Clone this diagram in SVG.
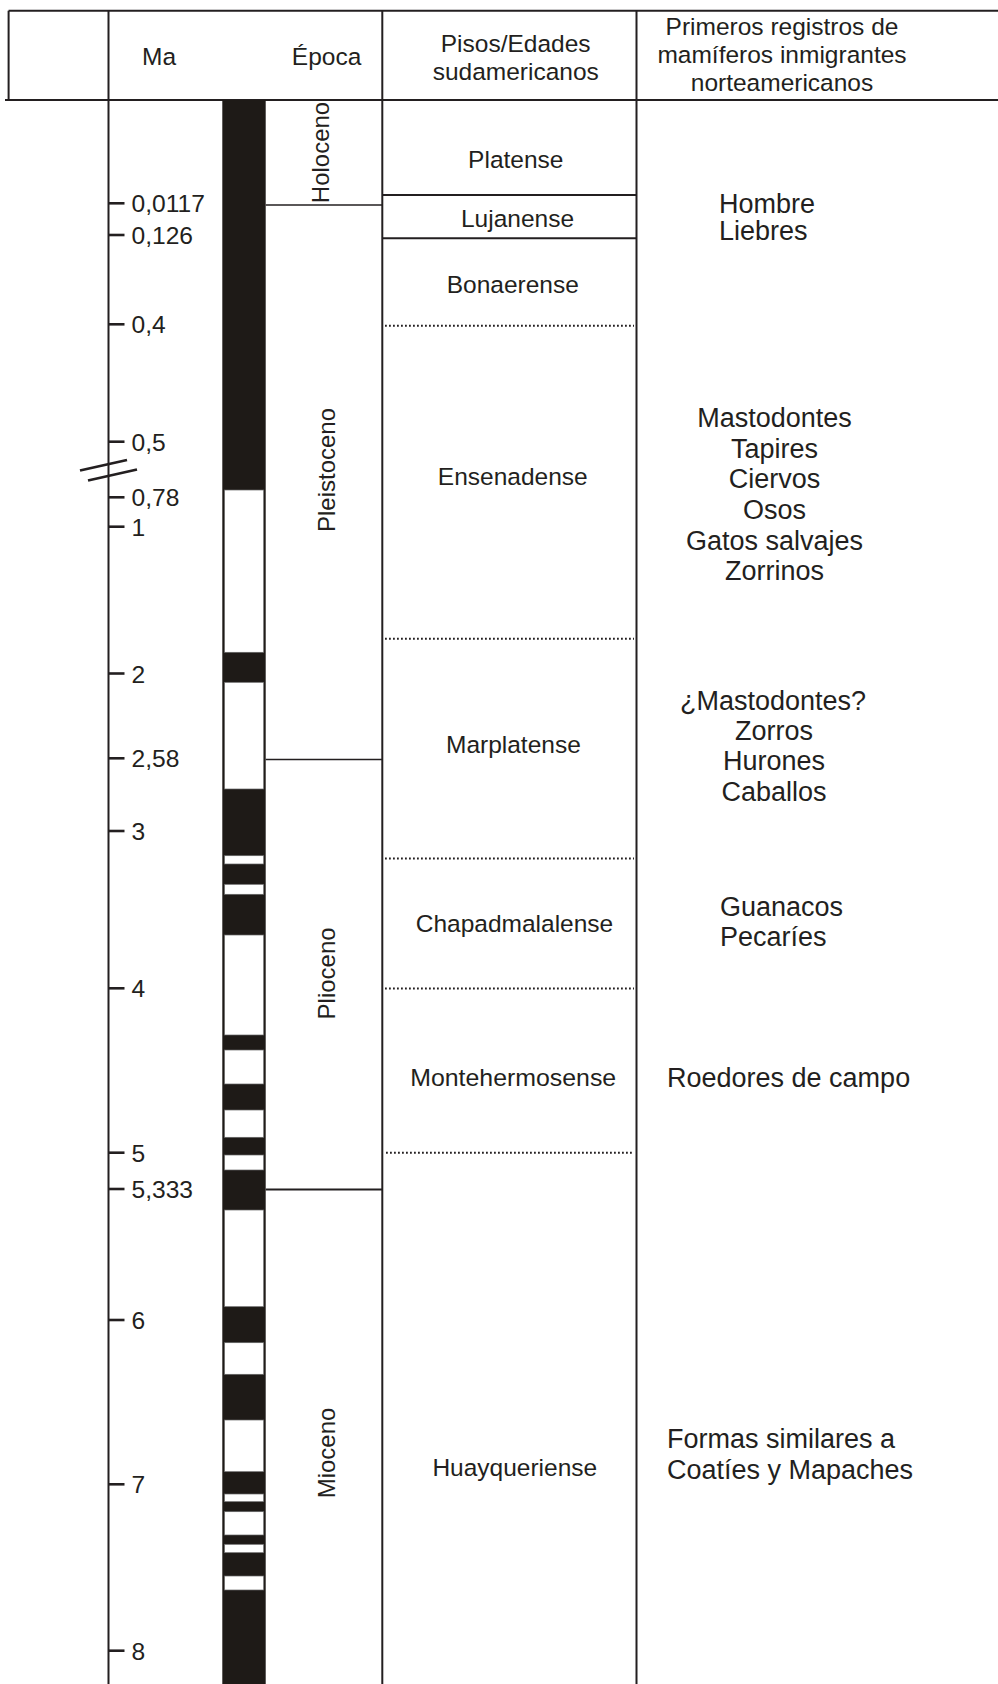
<svg xmlns="http://www.w3.org/2000/svg" width="998" height="1684" viewBox="0 0 998 1684">
<style>
text{font-family:"Liberation Sans",Arial,sans-serif;fill:#231f20}
.h{font-size:24.5px}
.t{font-size:24.6px}
.p{font-size:24.5px;text-anchor:middle}
.m{font-size:27px}
.mc{font-size:27px;text-anchor:middle}
.e{font-size:24px;text-anchor:middle}
.ln{stroke:#231f20;stroke-width:2;fill:none}
.thin{stroke:#231f20;stroke-width:1.4;fill:none}
.dot{stroke:#231f20;stroke-width:2;stroke-dasharray:1.8 2.2;fill:none}
.tick{stroke:#231f20;stroke-width:2.6}
.w{fill:#fff;stroke:#666;stroke-width:0.7}
</style>
<rect width="998" height="1684" fill="#fff"/>
<g id="grid">
<line class="ln" x1="8.6" y1="10.7" x2="998" y2="10.7"/>
<line class="ln" x1="5" y1="100" x2="998" y2="100"/>
<line class="ln" x1="8.6" y1="10.7" x2="8.6" y2="100"/>
<line class="ln" x1="108.5" y1="10.7" x2="108.5" y2="1684"/>
<line class="ln" x1="382.3" y1="10.7" x2="382.3" y2="1684"/>
<line class="ln" x1="636.5" y1="10.7" x2="636.5" y2="1684"/>
</g>
<g id="header">
<text class="h" x="159" y="65" text-anchor="middle">Ma</text>
<text class="h" x="326.6" y="65" text-anchor="middle">Época</text>
<text class="h" x="515.7" y="51.6" text-anchor="middle">Pisos/Edades</text>
<text class="h" x="515.7" y="79.8" text-anchor="middle">sudamericanos</text>
<text class="h" x="782" y="35.2" text-anchor="middle">Primeros registros de</text>
<text class="h" x="782" y="63.4" text-anchor="middle">mamíferos inmigrantes</text>
<text class="h" x="782" y="91.3" text-anchor="middle">norteamericanos</text>
</g>
<g id="scale">
<g class="tick">
<line x1="108" y1="203.3" x2="124.5" y2="203.3"/>
<line x1="108" y1="235" x2="124.5" y2="235"/>
<line x1="108" y1="324.3" x2="124.5" y2="324.3"/>
<line x1="108" y1="441.7" x2="124.5" y2="441.7"/>
<line x1="108" y1="497.3" x2="124.5" y2="497.3"/>
<line x1="108" y1="526.7" x2="124.5" y2="526.7"/>
<line x1="108" y1="673.5" x2="124.5" y2="673.5"/>
<line x1="108" y1="758.3" x2="124.5" y2="758.3"/>
<line x1="108" y1="831" x2="124.5" y2="831"/>
<line x1="108" y1="988.3" x2="124.5" y2="988.3"/>
<line x1="108" y1="1152.7" x2="124.5" y2="1152.7"/>
<line x1="108" y1="1189" x2="124.5" y2="1189"/>
<line x1="108" y1="1320" x2="124.5" y2="1320"/>
<line x1="108" y1="1484.3" x2="124.5" y2="1484.3"/>
<line x1="108" y1="1650.7" x2="124.5" y2="1650.7"/>
</g>
<text class="t" x="131.5" y="212.3">0,0117</text>
<text class="t" x="131.5" y="244">0,126</text>
<text class="t" x="131.5" y="333.3">0,4</text>
<text class="t" x="131.5" y="450.7">0,5</text>
<text class="t" x="131.5" y="506.3">0,78</text>
<text class="t" x="131.5" y="535.7">1</text>
<text class="t" x="131.5" y="682.5">2</text>
<text class="t" x="131.5" y="767.3">2,58</text>
<text class="t" x="131.5" y="840">3</text>
<text class="t" x="131.5" y="997.3">4</text>
<text class="t" x="131.5" y="1161.7">5</text>
<text class="t" x="131.5" y="1198">5,333</text>
<text class="t" x="131.5" y="1329">6</text>
<text class="t" x="131.5" y="1493.3">7</text>
<text class="t" x="131.5" y="1659.7">8</text>
<g stroke="#231f20" stroke-width="2.8">
<line x1="80" y1="470.5" x2="127" y2="460"/>
<line x1="88" y1="480.5" x2="137" y2="469.5"/>
</g>
</g>
<g id="polarity">
<rect x="222.3" y="100" width="43.4" height="1584" fill="#1e1a17"/>
<rect class="w" x="224.5" y="490" width="39.2" height="162.3"/>
<rect class="w" x="224.5" y="682.3" width="39.2" height="106.7"/>
<rect class="w" x="224.5" y="855.7" width="39.2" height="8.3"/>
<rect class="w" x="224.5" y="884.3" width="39.2" height="10"/>
<rect class="w" x="224.5" y="935" width="39.2" height="100"/>
<rect class="w" x="224.5" y="1050" width="39.2" height="34"/>
<rect class="w" x="224.5" y="1110" width="39.2" height="27.3"/>
<rect class="w" x="224.5" y="1155" width="39.2" height="15"/>
<rect class="w" x="224.5" y="1210" width="39.2" height="96.7"/>
<rect class="w" x="224.5" y="1342.7" width="39.2" height="31.6"/>
<rect class="w" x="224.5" y="1420" width="39.2" height="51.7"/>
<rect class="w" x="224.5" y="1494" width="39.2" height="7.7"/>
<rect class="w" x="224.5" y="1511.7" width="39.2" height="23.3"/>
<rect class="w" x="224.5" y="1544.3" width="39.2" height="8.4"/>
<rect class="w" x="224.5" y="1576" width="39.2" height="14"/>
</g>
<g id="epochs">
<line class="thin" x1="265.7" y1="205" x2="382.3" y2="205"/>
<line class="thin" x1="265.7" y1="759.5" x2="382.3" y2="759.5"/>
<line class="ln" x1="265.7" y1="1189.5" x2="382.3" y2="1189.5"/>
<text class="e" transform="translate(328.5,152.5) rotate(-90)">Holoceno</text>
<text class="e" transform="translate(335,470) rotate(-90)">Pleistoceno</text>
<text class="e" transform="translate(335,973.4) rotate(-90)">Plioceno</text>
<text class="e" transform="translate(335,1453) rotate(-90)">Mioceno</text>
</g>
<g id="pisos">
<line class="ln" x1="382.3" y1="195" x2="636.5" y2="195"/>
<line class="ln" x1="382.3" y1="238.3" x2="636.5" y2="238.3"/>
<line class="dot" x1="385" y1="325.7" x2="634" y2="325.7"/>
<line class="dot" x1="385" y1="638.8" x2="634" y2="638.8"/>
<line class="dot" x1="385" y1="858.6" x2="634" y2="858.6"/>
<line class="dot" x1="385" y1="988.6" x2="634" y2="988.6"/>
<line class="dot" x1="386" y1="1152.7" x2="634" y2="1152.7"/>
<text class="p" x="515.8" y="168.3">Platense</text>
<text class="p" x="517.5" y="226.7">Lujanense</text>
<text class="p" x="512.8" y="293">Bonaerense</text>
<text class="p" x="512.8" y="485">Ensenadense</text>
<text class="p" x="513.4" y="752.7">Marplatense</text>
<text class="p" x="514.5" y="931.7">Chapadmalalense</text>
<text class="p" x="513.2" y="1086" textLength="206" lengthAdjust="spacingAndGlyphs">Montehermosense</text>
<text class="p" x="514.8" y="1475.5">Huayqueriense</text>
</g>
<g id="mamiferos">
<text class="m" x="719" y="212.7">Hombre</text>
<text class="m" x="719" y="240">Liebres</text>
<text class="mc" x="774.5" y="427.3">Mastodontes</text>
<text class="mc" x="774.5" y="457.5">Tapires</text>
<text class="mc" x="774.5" y="488.3">Ciervos</text>
<text class="mc" x="774.5" y="519.3">Osos</text>
<text class="mc" x="774.5" y="549.5">Gatos salvajes</text>
<text class="mc" x="774.5" y="580">Zorrinos</text>
<text class="mc" x="773" y="710">¿Mastodontes?</text>
<text class="mc" x="774" y="739.5">Zorros</text>
<text class="mc" x="774" y="770">Hurones</text>
<text class="mc" x="774" y="800.7">Caballos</text>
<text class="m" x="720" y="916">Guanacos</text>
<text class="m" x="720" y="946">Pecaríes</text>
<text class="m" x="667" y="1086.7">Roedores de campo</text>
<text class="m" x="667" y="1448.3">Formas similares a</text>
<text class="m" x="667" y="1478.5">Coatíes y Mapaches</text>
</g>
</svg>
